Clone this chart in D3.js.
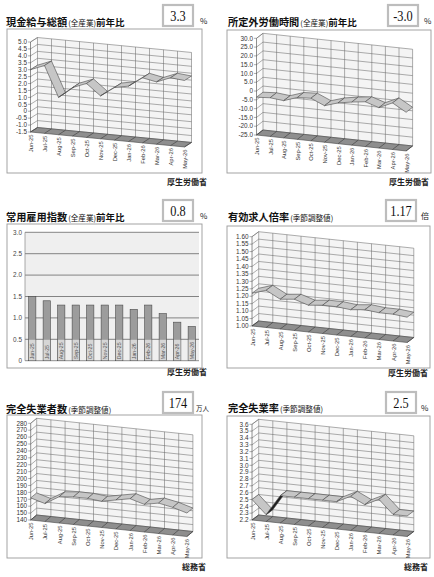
<!DOCTYPE html>
<html>
<head>
<meta charset="utf-8">
<script src="https://cdn.jsdelivr.net/npm/d3@7"></script>
<style>
body{margin:0;background:#fff;}
text{font-family:"Liberation Sans",Arial,sans-serif;}
.jp{font-family:"Noto Sans CJK JP",sans-serif;}
.ser{font-family:"Liberation Serif","Times New Roman",serif;}
.nar{font-family:"Liberation Sans Narrow","Liberation Sans",sans-serif;}
</style>
</head>
<body>
<div id="chart"></div>
<script>
const w = 434;
const h = 577;

//Categories
const months = ["Jun-25","Jul-25","Aug-25","Sep-25","Oct-25","Nov-25","Dec-25","Jan-26","Feb-26","Mar-26","Apr-26","May-26"];

//Series values
const wageVals = [3.0, 3.4, 1.2, 2.0, 2.4, 1.6, 2.3, 2.5, 3.2, 3.0, 3.4, 3.3];
const overtimeVals = [-3.5, -3.0, -3.8, -1.2, -0.8, -4.2, -1.8, -0.5, 0.5, -2.0, 1.5, -3.0];
const employVals = [1.5, 1.4, 1.3, 1.3, 1.3, 1.3, 1.3, 1.2, 1.3, 1.1, 0.9, 0.8];
const jobRatioVals = [1.22, 1.25, 1.20, 1.21, 1.18, 1.19, 1.19, 1.18, 1.19, 1.18, 1.18, 1.17];
const unemployedVals = [172, 166, 178, 180, 180, 178, 182, 186, 180, 184, 180, 174];
const unempRateVals = [2.5, 2.3, 2.6, 2.6, 2.6, 2.6, 2.6, 2.7, 2.6, 2.7, 2.5, 2.5];

//Tick values
const wageTicks = [5.0, 4.5, 4.0, 3.5, 3.0, 2.5, 2.0, 1.5, 1.0, 0.5, 0, -0.5, -1.0, -1.5];
const overtimeTicks = [30, 25, 20, 15, 10, 5, 0, -5, -10, -15, -20, -25];
const employTicks = [3.0, 2.5, 2.0, 1.5, 1.0, 0.5, 0];
const jobRatioTicks = [1.60, 1.55, 1.50, 1.45, 1.40, 1.35, 1.30, 1.25, 1.20, 1.15, 1.10, 1.05, 1.00];
const unemployedTicks = [280, 270, 260, 250, 240, 230, 220, 210, 200, 190, 180, 170, 160, 150, 140];
const unempRateTicks = [3.6, 3.5, 3.4, 3.3, 3.2, 3.1, 3.0, 2.9, 2.8, 2.7, 2.6, 2.5, 2.4, 2.3, 2.2];

//formatters (plain hyphen for minus)
const loc = d3.formatLocale({decimal: ".", thousands: ",", grouping: [3], currency: ["", ""], minus: "-"});
const f1 = v => v === 0 ? "0" : loc.format(".1f")(v);
const f2 = loc.format(".2f");
const f0 = loc.format("d");

//Create svg element
const svg = d3.select("#chart")
.append('svg')
.attr('width', w)
.attr('height', h);

svg.append('rect').attr('width', w).attr('height', h).attr('fill', '#fff');

const line = d3.line();

//Header: title, boxed latest value, unit, source
function header(o) {
    const t = svg.append('text')
    .attr('class', 'jp')
    .attr('x', o.tx)
    .attr('y', o.ty)
    .attr('fill', '#111');
    t.append('tspan').attr('font-size', 10.2).attr('font-weight', 700).text(o.main);
    t.append('tspan').attr('font-size', 7.6).attr('font-weight', 400).attr('dx', 1).text(o.paren);
    if (o.tail) t.append('tspan').attr('font-size', 9.5).attr('font-weight', 700).text(o.tail);

    svg.append('rect')
    .attr('x', o.bx)
    .attr('y', o.by)
    .attr('width', 30)
    .attr('height', 21)
    .attr('fill', '#fff')
    .attr('stroke', '#bdbdbd')
    .attr('stroke-width', 2.2);
    svg.append('text')
    .attr('class', 'ser')
    .attr('x', o.bx + 15)
    .attr('y', o.by + 16)
    .attr('text-anchor', 'middle')
    .attr('font-size', 14.5)
    .attr('fill', '#111')
    .attr('transform', `translate(${o.bx + 15},0) scale(0.85,1) translate(${-(o.bx + 15)},0)`)
    .text(o.value);
    svg.append('text')
    .attr('class', 'jp')
    .attr('x', o.ux)
    .attr('y', o.by + 19)
    .attr('font-size', o.unit.length > 1 ? 6.5 : 8)
    .attr('fill', '#222')
    .text(o.unit);

    svg.append('text')
    .attr('class', 'jp')
    .attr('x', o.sx)
    .attr('y', o.sy)
    .attr('text-anchor', 'end')
    .attr('font-size', 8)
    .attr('font-weight', 700)
    .attr('fill', '#222')
    .text(o.source);

    svg.append('rect')
    .attr('x', o.frame[0])
    .attr('y', o.frame[1])
    .attr('width', o.frame[2])
    .attr('height', o.frame[3])
    .attr('fill', 'none')
    .attr('stroke', '#9a9a9a')
    .attr('stroke-width', 0.9);
}

//3D ribbon chart (oblique projection)
function ribbon(c) {
    const g = svg.append('g');
    const n = months.length;
    const last = n - 1;
    const xScale = d3.scaleLinear().domain([0, last]).range([c.x0, c.x0 + last * c.step]);
    const vmin = d3.min(c.ticks);
    const vmax = d3.max(c.ticks);
    const yScale = d3.scaleLinear().domain([vmin, vmax]).range([c.yBot, c.yTop]);
    //point at category i, value v, depth d (0 front, 1 back)
    const P = (i, v, d) => [xScale(i) + d * c.ddx, yScale(v) + i * c.cdy + d * c.ddy];

    //walls
    g.append('path')
    .attr('d', line([P(0, vmin, 1), P(last, vmin, 1), P(last, vmax, 1), P(0, vmax, 1)]) + 'Z')
    .attr('fill', '#f4f4f4');
    g.append('path')
    .attr('d', line([P(0, vmin, 0), P(0, vmin, 1), P(0, vmax, 1), P(0, vmax, 0)]) + 'Z')
    .attr('fill', '#fafafa');

    //grid on back wall and left wall
    const grid = g.append('g').attr('stroke', '#6a6a6a').attr('stroke-width', 0.55).attr('fill', 'none');
    c.ticks.forEach(v => {
        grid.append('path').attr('d', line([P(0, v, 0), P(0, v, 1), P(last, v, 1)]));
        grid.append('path').attr('d', line([P(0, v, 0), [P(0, v, 0)[0] - 2.5, P(0, v, 0)[1]]]));
    });
    months.forEach((m, i) => {
        grid.append('path').attr('d', line([P(i, vmin, 1), P(i, vmax, 1)]));
    });
    grid.append('path').attr('d', line([P(0, vmin, 0), P(0, vmax, 0)])).attr('stroke', '#333');
    grid.append('path').attr('d', line([P(0, vmax, 0), P(0, vmax, 1)]));

    //floor
    g.append('path')
    .attr('d', line([P(0, vmin, 0), P(last, vmin, 0), P(last, vmin, 1), P(0, vmin, 1)]) + 'Z')
    .attr('fill', '#8e8e8e')
    .attr('stroke', '#444')
    .attr('stroke-width', 0.6);
    months.forEach((m, i) => {
        g.append('path')
        .attr('d', line([P(i, vmin, 0), P(i, vmin, 1)]))
        .attr('stroke', '#3a3a3a')
        .attr('stroke-width', 0.6);
    });

    //ribbon segments
    for (let i = 0; i < last; i++) {
        const a = P(i, c.vals[i], 0);
        const b = P(i + 1, c.vals[i + 1], 0);
        const bb = P(i + 1, c.vals[i + 1], 1);
        const ab = P(i, c.vals[i], 1);
        const cross = (b[0] - a[0]) * (ab[1] - a[1]) - (b[1] - a[1]) * (ab[0] - a[0]);
        g.append('path')
        .attr('d', line([a, b, bb, ab]) + 'Z')
        .attr('fill', cross < 0 ? '#c6c6c6' : '#1e1e1e')
        .attr('stroke', '#4a4a4a')
        .attr('stroke-width', 0.6)
        .attr('stroke-linejoin', 'round');
    }

    //value labels
    c.ticks.forEach(v => {
        const p = P(0, v, 0);
        g.append('text')
        .attr('x', p[0] - 3.5)
        .attr('y', p[1])
        .attr('dy', '0.35em')
        .attr('text-anchor', 'end')
        .attr('font-size', 6.4)
        .attr('fill', '#333')
        .text(c.fmt(v));
    });

    //category labels
    months.forEach((m, i) => {
        const p = P(i, vmin, 0);
        const x = p[0] + 0.5;
        const y = p[1] + 2.5;
        g.append('text')
        .attr('class', 'nar')
        .attr('x', x)
        .attr('y', y)
        .attr('dy', '0.35em')
        .attr('text-anchor', 'end')
        .attr('font-size', 5.8)
        .attr('fill', '#333')
        .attr('transform', `rotate(-90,${x},${y})`)
        .text(m);
    });
}

//2D bar chart
function bars(c) {
    const g = svg.append('g');
    const xScale = d3.scaleBand().domain(months).range([c.left, c.right]).paddingInner(0.5).paddingOuter(0.25);
    const yScale = d3.scaleLinear().domain([d3.min(c.ticks), d3.max(c.ticks)]).range([c.bottom, c.top]);

    g.append('rect')
    .attr('x', c.left)
    .attr('y', c.top)
    .attr('width', c.right - c.left)
    .attr('height', c.bottom - c.top)
    .attr('fill', '#efefef');

    c.ticks.forEach(v => {
        g.append('line')
        .attr('x1', c.left).attr('x2', c.right)
        .attr('y1', yScale(v)).attr('y2', yScale(v))
        .attr('stroke', v === 0 ? '#666' : '#555')
        .attr('stroke-width', 0.7);
        g.append('text')
        .attr('x', c.left - 3)
        .attr('y', yScale(v))
        .attr('dy', '0.35em')
        .attr('text-anchor', 'end')
        .attr('font-size', 6.4)
        .attr('fill', '#444')
        .text(c.fmt(v));
    });
    g.append('line')
    .attr('x1', c.left).attr('x2', c.left)
    .attr('y1', c.top).attr('y2', c.bottom)
    .attr('stroke', '#888').attr('stroke-width', 0.7);

    g.selectAll('rect.bar')
    .data(c.vals)
    .enter()
    .append('rect')
    .attr('class', 'bar')
    .attr('x', (d, i) => xScale(months[i]))
    .attr('y', d => yScale(d))
    .attr('width', xScale.bandwidth())
    .attr('height', d => c.bottom - yScale(d))
    .attr('fill', '#9c9c9c')
    .attr('stroke', '#4a4a4a')
    .attr('stroke-width', 0.6);

    //label patch at bar bottom
    months.forEach((m, i) => {
        const x = xScale(m);
        const y0 = yScale(0.5);
        g.append('rect')
        .attr('x', x + 0.4)
        .attr('y', y0 + 0.5)
        .attr('width', xScale.bandwidth() - 0.8)
        .attr('height', c.bottom - y0 - 0.9)
        .attr('fill', '#d6d6d6');
        const cx = x + xScale.bandwidth() / 2;
        const cy = c.bottom - 1.5;
        g.append('text')
        .attr('class', 'nar')
        .attr('x', cx)
        .attr('y', cy)
        .attr('dy', '0.35em')
        .attr('font-size', 5.2)
        .attr('fill', '#555')
        .attr('transform', `rotate(-90,${cx},${cy})`)
        .text(m);
    });
}

//Panels
header({tx: 6, ty: 26, main: "現金給与総額", paren: "(全産業)", tail: "前年比",
    bx: 163, by: 5, value: f1(wageVals[wageVals.length - 1]), unit: "%", ux: 200,
    sx: 207, sy: 185, source: "厚生労働省", frame: [7, 29, 195, 144]});
ribbon({vals: wageVals, ticks: wageTicks, fmt: f1,
    x0: 30.5, step: 14, yTop: 42, yBot: 132, cdy: 1.36, ddx: 7, ddy: -4.5});

header({tx: 228, ty: 26, main: "所定外労働時間", paren: "(全産業)", tail: "前年比",
    bx: 388, by: 5, value: f1(overtimeVals[overtimeVals.length - 1]), unit: "%", ux: 424,
    sx: 429, sy: 185, source: "厚生労働省", frame: [227, 30, 204, 143]});
ribbon({vals: overtimeVals, ticks: overtimeTicks, fmt: f1,
    x0: 256.5, step: 13.6, yTop: 38.3, yBot: 135, cdy: 1.45, ddx: 6.5, ddy: -5});

header({tx: 6, ty: 221, main: "常用雇用指数", paren: "(全産業)", tail: "前年比",
    bx: 163, by: 200, value: f1(employVals[employVals.length - 1]), unit: "%", ux: 200,
    sx: 207, sy: 375, source: "厚生労働省", frame: [7, 224, 195, 144]});
bars({vals: employVals, ticks: employTicks, fmt: f1,
    left: 25, right: 199, top: 232.3, bottom: 360.7});

header({tx: 228, ty: 221, main: "有効求人倍率", paren: "(季節調整値)", tail: "",
    bx: 386, by: 200, value: f2(jobRatioVals[jobRatioVals.length - 1]), unit: "倍", ux: 421,
    sx: 428, sy: 376, source: "厚生労働省", frame: [227, 226, 203, 142]});
ribbon({vals: jobRatioVals, ticks: jobRatioTicks, fmt: f2,
    x0: 252, step: 14.1, yTop: 236.7, yBot: 326, cdy: 1.5, ddx: 6.7, ddy: -5});

header({tx: 6, ty: 412.5, main: "完全失業者数", paren: "(季節調整値)", tail: "",
    bx: 163, by: 392, value: f0(unemployedVals[unemployedVals.length - 1]), unit: "万人", ux: 196,
    sx: 206, sy: 570, source: "総務省", frame: [7, 415, 195, 143]});
ribbon({vals: unemployedVals, ticks: unemployedTicks, fmt: f0,
    x0: 30.7, step: 14.2, yTop: 423.3, yBot: 520, cdy: 1.5, ddx: 6, ddy: -5});

header({tx: 228, ty: 412, main: "完全失業率", paren: "(季節調整値)", tail: "",
    bx: 386, by: 392, value: f1(unempRateVals[unempRateVals.length - 1]), unit: "%", ux: 421,
    sx: 428, sy: 570, source: "総務省", frame: [227, 416, 203, 142]});
ribbon({vals: unempRateVals, ticks: unempRateTicks, fmt: f1,
    x0: 252, step: 14.1, yTop: 424.3, yBot: 520, cdy: 1.5, ddx: 6.7, ddy: -5});
</script>
</body>
</html>
